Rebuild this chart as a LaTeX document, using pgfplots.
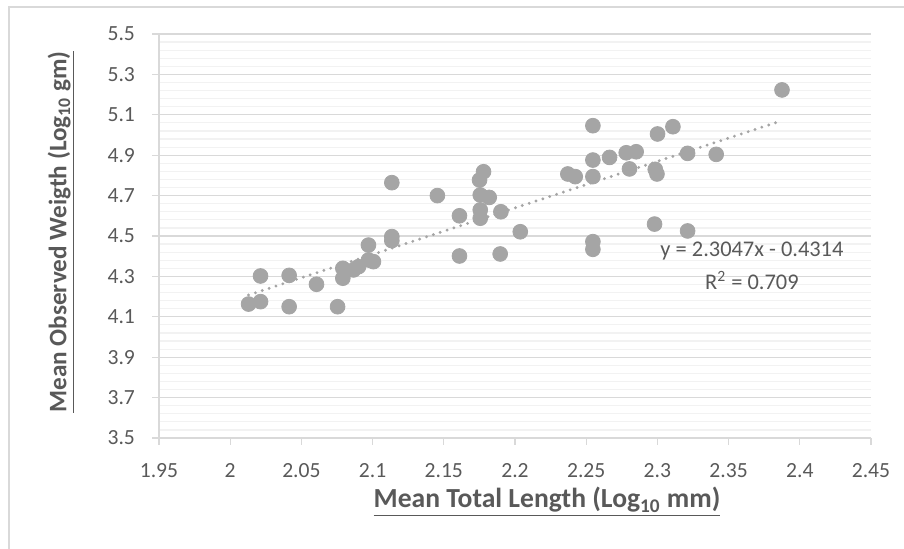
\documentclass[border=0pt]{standalone}
\usepackage{pgfplots}
\pgfplotsset{compat=1.18}
\usepackage{fontspec}
\setmainfont{Carlito}

\definecolor{txtgray}{HTML}{595959}
\definecolor{ptgray}{HTML}{A5A5A5}
\definecolor{majgrid}{HTML}{D9D9D9}
\definecolor{mingrid}{HTML}{F2F2F2}
\definecolor{framegray}{HTML}{D9D9D9}

\begin{document}
\begin{tikzpicture}
% 1 px of the reference = 0.5pt
\path[use as bounding box] (0,0) rectangle (452pt,274.5pt);
\draw[framegray, line width=0.6pt] (4.5pt,0) -- (4.5pt,271pt) -- (452pt,271pt);

\begin{axis}[
    at={(79.5pt,55.5pt)}, anchor=south west,
    scale only axis,
    width=356pt, height=202pt,
    xmin=1.95, xmax=2.45,
    ymin=3.5, ymax=5.5,
    xtick={1.95,2,2.05,2.1,2.15,2.2,2.25,2.3,2.35,2.4,2.45},
    xticklabels={1.95,2,2.05,2.1,2.15,2.2,2.25,2.3,2.35,2.4,2.45},
    ytick={3.5,3.7,3.9,4.1,4.3,4.5,4.7,4.9,5.1,5.3,5.5},
    yticklabels={3.5,3.7,3.9,4.1,4.3,4.5,4.7,4.9,5.1,5.3,5.5},
    minor y tick num=4,
    ymajorgrids=true, yminorgrids=true,
    major grid style={majgrid, line width=0.6pt},
    minor grid style={mingrid, line width=0.6pt},
    axis x line*=bottom, axis y line*=left,
    axis line style={majgrid, line width=0.6pt, -},
    tick align=outside,
    major tick length=3.5pt, minor tick length=0pt,
    tick style={majgrid, line width=0.6pt},
    /pgf/number format/assume math mode=true,
    tick label style={font=\fontsize{10.8}{12}\selectfont, text=txtgray},
    xticklabel style={yshift=-5.5pt},
    yticklabel style={xshift=-5pt},
    xlabel={\underline{Mean Total Length (Log\textsubscript{10} mm)}},
    ylabel={\underline{Mean Observed Weigth (Log\textsubscript{10} gm)}},
    label style={text=txtgray},
    xlabel style={font=\bfseries\fontsize{13.8}{16}\selectfont,
        at={(axis description cs:0.545,-0.173)}, anchor=base},
    ylabel style={font=\bfseries\fontsize{12.6}{15}\selectfont,
        at={(axis description cs:-0.130,0.51)}, anchor=base},
    clip=false,
]

\addplot[only marks, mark=*, mark size=3.7pt,
    mark options={fill=ptgray, draw=ptgray}]
    coordinates {
        (2.0129, 4.163) (2.0213, 4.175) (2.0213, 4.302) (2.0414, 4.150)
        (2.0414, 4.305) (2.0606, 4.261) (2.0754, 4.150) (2.0791, 4.291)
        (2.0791, 4.340) (2.0866, 4.332) (2.0901, 4.348) (2.0971, 4.455)
        (2.0971, 4.381) (2.1006, 4.373) (2.1135, 4.497) (2.1135, 4.477)
        (2.1135, 4.764) (2.1455, 4.700) (2.1610, 4.600) (2.1610, 4.401)
        (2.1779, 4.818) (2.1751, 4.777) (2.1756, 4.703) (2.1819, 4.691)
        (2.1756, 4.629) (2.1756, 4.588) (2.1901, 4.620) (2.1896, 4.411)
        (2.2037, 4.521) (2.2371, 4.807) (2.2423, 4.794) (2.2547, 5.046)
        (2.2547, 4.876) (2.2547, 4.794) (2.2547, 4.472) (2.2547, 4.434)
        (2.2664, 4.889) (2.2781, 4.912) (2.2851, 4.917) (2.2804, 4.832)
        (2.2985, 4.830) (2.2997, 4.807) (2.3001, 5.005) (2.3109, 5.041)
        (2.3212, 4.909) (2.3413, 4.904) (2.2980, 4.559) (2.3212, 4.525)
        (2.3875, 5.223)
    };

% linear trendline (Excel), drawn between its end points
\addplot[ptgray, line width=1.6pt, line cap=round,
    dash pattern=on 0pt off 3.6pt]
    coordinates {(2.0129, 4.2078) (2.3875, 5.0711)};

\node[text=txtgray, font=\fontsize{11.2}{13}\selectfont]
    at (axis cs:2.3664,4.4257) {y = 2.3047x - 0.4314};
\node[text=txtgray, font=\fontsize{11.2}{13}\selectfont]
    at (axis cs:2.3664,4.282) {R\textsuperscript{2} = 0.709};

\end{axis}
\end{tikzpicture}
\end{document}
